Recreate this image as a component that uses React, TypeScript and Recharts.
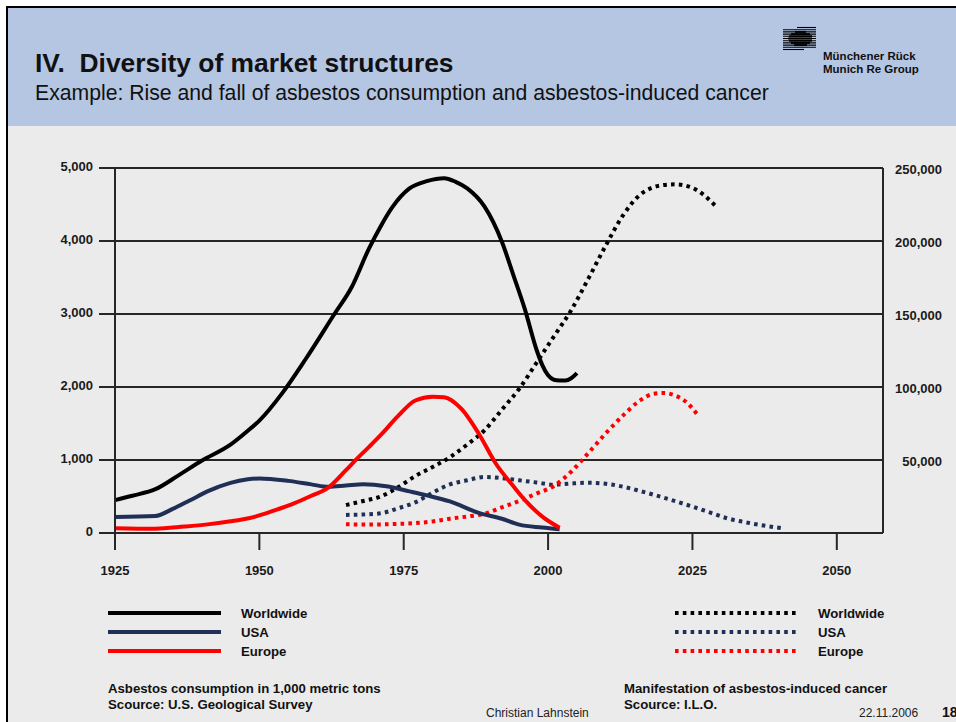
import React from 'react';
import { LineChart, Line, XAxis, YAxis, CartesianGrid } from 'recharts';

const FONT = "'Liberation Sans', Arial, Helvetica, sans-serif";

const xTicks = [1925, 1950, 1975, 2000, 2025, 2050];
const leftTicks = [0, 1000, 2000, 3000, 4000, 5000];
const rightTicks = [50000, 100000, 150000, 200000, 250000];
const regions = ['Worldwide', 'USA', 'Europe'];
const regionColors = ['#000000', '#1f2f55', '#ff0000'];

// Asbestos consumption (1,000 metric tons) - left axis
const worldConsYears = [1925, 1928, 1932, 1936, 1940, 1945, 1948, 1950, 1954, 1958, 1963, 1966, 1969, 1971, 1973, 1976, 1979, 1982, 1984, 1986, 1989, 1992, 1994, 1996, 1998, 1999, 2000, 2001, 2002, 2003, 2004, 2005];
const worldConsValues = [450, 510, 600, 790, 990, 1210, 1400, 1540, 1920, 2380, 3000, 3370, 3900, 4200, 4460, 4720, 4820, 4860, 4810, 4720, 4470, 3990, 3530, 3060, 2510, 2300, 2160, 2100, 2090, 2090, 2120, 2190];

const usaConsYears = [1925, 1932, 1935, 1938, 1941, 1945, 1948, 1950, 1955, 1959, 1962, 1965, 1968, 1972, 1976, 1979, 1983, 1988, 1992, 1995, 1999, 2002];
const usaConsValues = [220, 234, 330, 448, 570, 687, 735, 748, 714, 666, 632, 650, 668, 640, 570, 515, 432, 275, 195, 115, 75, 51];

const euConsYears = [1925, 1932, 1937, 1941, 1945, 1947, 1949, 1951, 1953, 1956, 1959, 1962, 1965, 1967, 1969, 1971, 1974, 1977, 1980, 1982, 1985, 1988, 1991, 1994, 1996, 1999, 2002];
const euConsValues = [65, 58, 88, 118, 160, 185, 218, 265, 320, 405, 510, 625, 860, 1025, 1180, 1340, 1600, 1815, 1868, 1860, 1699, 1360, 945, 640, 450, 225, 73];

// Asbestos-induced cancer cases - right axis
const worldCancerYears = [1965, 1968, 1971, 1974, 1977, 1980, 1983, 1986, 1989, 1992, 1995, 1998, 2001, 2004, 2007, 2010, 2013, 2016, 2018, 2020, 2022, 2025, 2027, 2029];
const worldCancerValues = [19150, 21900, 24950, 31300, 39000, 45200, 51900, 60600, 70400, 84500, 98800, 116600, 134600, 152600, 174400, 197000, 217700, 231900, 236500, 238300, 238800, 236400, 231400, 224000];

const usaCancerYears = [1965, 1968, 1971, 1974, 1977, 1980, 1983, 1986, 1989, 1992, 1995, 1998, 2001, 2004, 2007, 2010, 2013, 2016, 2019, 2022, 2025, 2028, 2031, 2034, 2037, 2041];
const usaCancerValues = [12400, 12700, 13500, 16900, 21000, 27600, 33300, 36100, 38400, 37600, 36100, 34600, 33100, 33900, 34400, 33700, 31700, 28700, 25400, 21800, 18100, 14100, 10100, 7500, 5300, 3100];

const euCancerYears = [1965, 1968, 1971, 1974, 1977, 1980, 1983, 1986, 1989, 1992, 1995, 1998, 2001, 2004, 2007, 2010, 2013, 2016, 2018, 2020, 2022, 2024, 2026];
const euCancerValues = [6000, 5800, 5900, 6200, 6800, 7900, 9800, 11300, 13200, 17600, 22000, 27000, 32200, 42000, 54900, 68300, 80600, 91000, 95100, 95900, 94200, 89500, 80300];

const toData = (years: number[], values: number[]) => years.map((year, i) => ({ year, value: values[i] }));

const consumption = [
  toData(worldConsYears, worldConsValues),
  toData(usaConsYears, usaConsValues),
  toData(euConsYears, euConsValues),
];
const cancer = [
  toData(worldCancerYears, worldCancerValues),
  toData(usaCancerYears, usaCancerValues),
  toData(euCancerYears, euCancerValues),
];

const fmt = (v: number) => v.toLocaleString('en-US');

const LeftTick = (props: any) => {
  const { x, y, payload } = props;
  return (
    <text x={x} y={y - 2} dy="0.355em" textAnchor="end" fontFamily={FONT} fontSize={13} fontWeight="bold" fill="#1a1a1a">
      {fmt(payload.value)}
    </text>
  );
};
const RightTick = (props: any) => {
  const { x, y, payload } = props;
  return (
    <text x={x} y={y + 1} dy="0.355em" textAnchor="end" fontFamily={FONT} fontSize={13} fontWeight="bold" fill="#1a1a1a">
      {fmt(payload.value)}
    </text>
  );
};
const BottomTick = (props: any) => {
  const { x, y, payload } = props;
  return (
    <text x={x} y={y} dy="0.71em" textAnchor="middle" fontFamily={FONT} fontSize={13} fontWeight="bold" fill="#1a1a1a">
      {payload.value}
    </text>
  );
};

const AXIS = '#262626';

// decorative logo: thin horizontal rules with a thicker oval core
const logoRows: [number, number, number][] = [
  [27.5, 797, 816],
  [29.7, 783, 816],
  [31.9, 783, 816],
  [34.1, 783, 816],
  [36.3, 783, 816],
  [38.5, 783, 816],
  [40.7, 783, 816],
  [42.9, 783, 816],
  [45.1, 783, 816],
  [47.3, 783, 816],
  [49.5, 783, 804],
];
const logoCore: [number, number, number][] = [
  [31.9, 795, 806],
  [34.1, 791, 810],
  [36.3, 789, 812],
  [38.5, 788, 812],
  [40.7, 789, 812],
  [42.9, 791, 810],
  [45.1, 794, 807],
];

const footStyle = { fontFamily: FONT, fontSize: 13.2, fontWeight: 'bold' as const, fill: '#111' };

export default function App() {
  return (
    <div style={{ position: 'absolute', left: 0, top: 0, width: 956, height: 722, overflow: 'hidden', background: '#ffffff', fontFamily: FONT }}>
      <div style={{ position: 'absolute', left: 6, top: 6, width: 950, height: 716, borderTop: '2px solid #000', borderLeft: '2px solid #000', background: '#ebebeb' }} />
      <div style={{ position: 'absolute', left: 8, top: 8, width: 948, height: 118, background: '#b4c6e2' }} />
      <svg width={956} height={722} style={{ position: 'absolute', left: 0, top: 0 }}>
        <text x={35} y={72} xmlSpace="preserve" fontFamily={FONT} fontSize={26.4} fontWeight="bold" fill="#111">{'IV.  Diversity of market structures'}</text>
        <text x={35} y={100} fontFamily={FONT} fontSize={21.2} fill="#111">Example: Rise and fall of asbestos consumption and asbestos-induced cancer</text>
        {logoRows.map(([y, x1, x2], i) => (
          <line key={'r' + i} x1={x1} x2={x2} y1={y} y2={y} stroke="#000" strokeWidth={1.1} />
        ))}
        {logoCore.map(([y, x1, x2], i) => (
          <line key={'k' + i} x1={x1} x2={x2} y1={y} y2={y} stroke="#000" strokeWidth={2} />
        ))}
        <text x={823} y={60} fontFamily={FONT} fontSize={11.5} fontWeight="bold" fill="#111">Münchener Rück</text>
        <text x={823} y={73} fontFamily={FONT} fontSize={11.5} fontWeight="bold" fill="#111">Munich Re Group</text>

        {regions.map((name, i) => (
          <g key={'l' + i}>
            <line x1={108} x2={221} y1={613 + i * 19} y2={613 + i * 19} stroke={regionColors[i]} strokeWidth={4} />
            <text x={241} y={617.5 + i * 19} {...footStyle}>{name}</text>
            <line x1={675} x2={797} y1={613 + i * 19} y2={613 + i * 19} stroke={regionColors[i]} strokeWidth={4} strokeDasharray="3.6 4.2" />
            <text x={818} y={617.5 + i * 19} {...footStyle}>{name}</text>
          </g>
        ))}
        <text x={108} y={692.5} {...footStyle}>Asbestos consumption in 1,000 metric tons</text>
        <text x={108} y={708.5} {...footStyle}>Scource: U.S. Geological Survey</text>
        <text x={624} y={692.5} {...footStyle}>Manifestation of asbestos-induced cancer</text>
        <text x={624} y={708.5} {...footStyle}>Scource: I.L.O.</text>
        <text x={486} y={717} fontFamily={FONT} fontSize={12} fill="#222">Christian Lahnstein</text>
        <text x={859} y={717} fontFamily={FONT} fontSize={12} fill="#222">22.11.2006</text>
        <text x={942} y={717} fontFamily={FONT} fontSize={14} fontWeight="bold" fill="#111">18</text>
      </svg>
      <div style={{ position: 'absolute', left: 0, top: 0 }}>
        <LineChart width={956} height={722} margin={{ top: 168, left: 55, right: 13, bottom: 149 }}>
          <CartesianGrid vertical={false} stroke={AXIS} strokeWidth={2} yAxisId="left" />
          <XAxis
            dataKey="year"
            type="number"
            domain={[1925, 2058]}
            ticks={xTicks}
            allowDuplicatedCategory={false}
            height={40}
            tickSize={17}
            tickMargin={16}
            tick={<BottomTick />}
            axisLine={{ stroke: AXIS, strokeWidth: 2 }}
            tickLine={{ stroke: AXIS, strokeWidth: 2 }}
          />
          <YAxis
            yAxisId="left"
            orientation="left"
            domain={[0, 5000]}
            ticks={leftTicks}
            width={60}
            tickSize={16}
            tickMargin={6}
            tick={<LeftTick />}
            axisLine={{ stroke: AXIS, strokeWidth: 2 }}
            tickLine={{ stroke: AXIS, strokeWidth: 2 }}
          />
          <YAxis
            yAxisId="right"
            orientation="right"
            domain={[0, 250000]}
            ticks={rightTicks}
            width={60}
            tickSize={0}
            tickMargin={59}
            tick={<RightTick />}
            axisLine={{ stroke: AXIS, strokeWidth: 2 }}
            tickLine={false}
          />
          {cancer.map((d, i) => (
            <Line
              key={'c' + i}
              yAxisId="right"
              data={d}
              dataKey="value"
              name={regions[i] + ' cancer'}
              type="monotone"
              stroke={regionColors[i]}
              strokeWidth={4}
              strokeDasharray="3.6 4.2"
              dot={false}
              activeDot={false}
              isAnimationActive={false}
            />
          ))}
          {consumption.map((d, i) => (
            <Line
              key={'s' + i}
              yAxisId="left"
              data={d}
              dataKey="value"
              name={regions[i] + ' consumption'}
              type="monotone"
              stroke={regionColors[i]}
              strokeWidth={4}
              dot={false}
              activeDot={false}
              isAnimationActive={false}
            />
          ))}
        </LineChart>
      </div>
    </div>
  );
}
